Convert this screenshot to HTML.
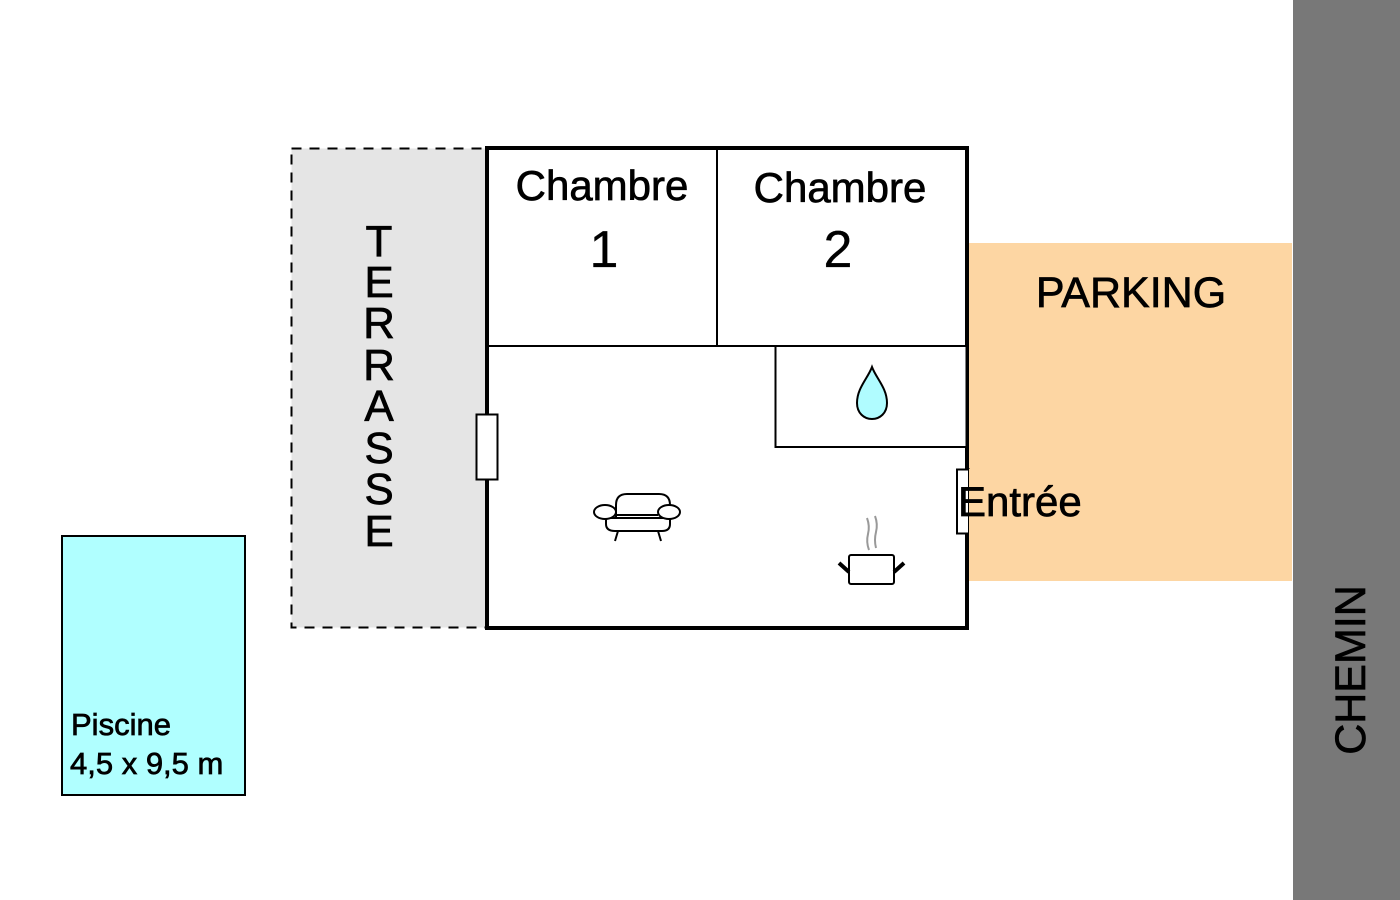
<!DOCTYPE html>
<html><head><meta charset="utf-8"><style>
html,body{margin:0;padding:0;background:#fff;}
svg{display:block;}
text{font-family:"Liberation Sans",Arial,sans-serif;fill:#000;stroke:#000;stroke-width:0.7;}
</style></head><body>
<svg width="1400" height="900" viewBox="0 0 1400 900" xmlns="http://www.w3.org/2000/svg">
<rect x="0" y="0" width="1400" height="900" fill="#fff"/>
<rect x="1293" y="0" width="107" height="900" fill="#787878"/>
<text transform="translate(1365,670) rotate(-90)" font-size="43" text-anchor="middle">CHEMIN</text>
<rect x="291.5" y="148.5" width="195" height="479" fill="#e5e5e5" stroke="#000" stroke-width="2" stroke-dasharray="10,8"/>
<g font-size="44" text-anchor="middle" style="stroke-width:1.2">
<text x="379" y="256">T</text><text x="379" y="297">E</text><text x="379" y="338">R</text><text x="379" y="380">R</text>
<text x="379" y="421">A</text><text x="379" y="463">S</text><text x="379" y="504">S</text><text x="379" y="546">E</text>
</g>
<rect x="487" y="148" width="480" height="480" fill="#fff" stroke="#000" stroke-width="4"/>
<line x1="717" y1="148" x2="717" y2="346" stroke="#000" stroke-width="2"/>
<line x1="487" y1="346" x2="967" y2="346" stroke="#000" stroke-width="2"/>
<rect x="775.5" y="346" width="191" height="101" fill="#fff" stroke="#000" stroke-width="2"/>
<text x="602" y="200" font-size="42" text-anchor="middle">Chambre</text>
<text x="604" y="267" font-size="52" text-anchor="middle" style="stroke-width:0.3">1</text>
<text x="840" y="202" font-size="42" text-anchor="middle">Chambre</text>
<text x="838" y="267" font-size="52" text-anchor="middle" style="stroke-width:0.3">2</text>
<rect x="476.5" y="414.5" width="21" height="65" fill="#fff" stroke="#000" stroke-width="2"/>
<path d="M872 367 C868 378 857 388 857 403 C857 413 864 419 872 419 C880 419 887 413 887 403 C887 388 876 378 872 367 Z" fill="#b0fcff" stroke="#000" stroke-width="2"/>
<g fill="#fff" stroke="#000" stroke-width="2">
<path d="M616 521 L616 505 Q616 494 627 494 L659 494 Q670 494 670 505 L670 521"/>
<path d="M606 518 L606 524 Q606 531 615 531 L662 531 Q670 531 670 524 L670 518 Z"/>
<line x1="618" y1="531" x2="615" y2="541"/><line x1="658" y1="531" x2="661" y2="541"/>
<ellipse cx="605" cy="512" rx="11" ry="7"/><ellipse cx="669" cy="512" rx="11" ry="7"/>
<line x1="616" y1="515" x2="658" y2="515"/>
</g>
<g>
<path d="M869 550 Q866 542 868 534 Q870 526 867 518" fill="none" stroke="#999" stroke-width="2"/>
<path d="M876 548 Q874 540 876 532 Q878 524 875 516" fill="none" stroke="#999" stroke-width="2"/>
<rect x="849" y="555" width="45" height="29" rx="2" fill="#fff" stroke="#000" stroke-width="2"/>
<line x1="839" y1="563" x2="849" y2="572" stroke="#000" stroke-width="4"/>
<line x1="904" y1="563" x2="894" y2="572" stroke="#000" stroke-width="4"/>
</g>
<rect x="969" y="243" width="323" height="338" fill="#fdd6a3"/>
<line x1="967" y1="146" x2="967" y2="243" stroke="#000" stroke-width="4"/>
<rect x="957" y="469.5" width="12" height="64" fill="#fff" stroke="#000" stroke-width="2"/>
<rect x="969" y="469" width="6" height="66" fill="#fdd6a3"/>
<text x="1131" y="307" font-size="43" text-anchor="middle">PARKING</text>
<text x="958" y="516" font-size="42">Entrée</text>
<rect x="62" y="536" width="183" height="259" fill="#b0ffff" stroke="#000" stroke-width="2"/>
<text x="71" y="735" font-size="31">Piscine</text>
<text x="70" y="774" font-size="31">4,5 x 9,5 m</text>
</svg>
</body></html>
